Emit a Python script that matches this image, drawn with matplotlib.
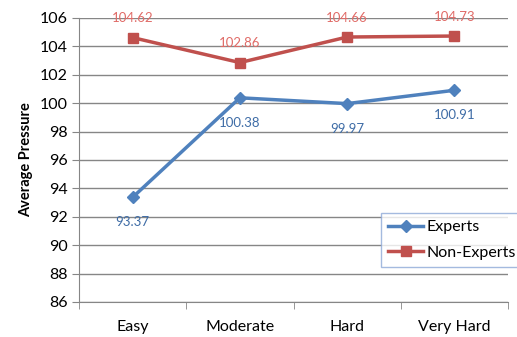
import matplotlib.pyplot as plt

categorias = ['Easy', 'Moderate', 'Hard', 'Very Hard']
expertos = [93.37, 100.38, 99.97, 100.91]
no_expertos = [104.62, 102.86, 104.66, 104.73]

azul = '#4F81BD'
rojo = '#C0504D'

plt.rcParams['font.family'] = ['Lato', 'DejaVu Sans']

fig = plt.figure(figsize=(5.17, 3.37), dpi=100)
ax = fig.add_axes([0.1528, 0.1039, 0.8298, 0.8427])

x = list(range(len(categorias)))
ax.plot(x, expertos, marker='D', markersize=6.5, color=azul, linewidth=2.5, label='Experts')
ax.plot(x, no_expertos, marker='s', markersize=7.5, color=rojo, linewidth=2.5, label='Non-Experts')

# etiquetas de valores
for i, v in enumerate(expertos):
    ax.annotate(f'{v:.2f}', (i, v), textcoords='offset points', xytext=(0, -18),
                ha='center', va='center', fontsize=9.5, color='#3E6CA6')
for i, v in enumerate(no_expertos):
    ax.annotate(f'{v:.2f}', (i, v), textcoords='offset points', xytext=(0, 14),
                ha='center', va='center', fontsize=9.5, color='#E06B67')

ax.set_xlim(-0.5, 3.5)
ax.set_ylim(86, 106)
ax.set_yticks(range(86, 107, 2))
ax.set_xticks(x)
ax.set_xticklabels(categorias)
ax.set_xticks([-0.5, 0.5, 1.5, 2.5, 3.5], minor=True)
ax.tick_params(axis='x', which='major', length=0, pad=13, labelsize=11.5)
ax.tick_params(axis='x', which='minor', length=5, color='#868686')
ax.tick_params(axis='y', length=5, color='#868686', labelsize=11.5, pad=3)
ax.yaxis.grid(True, color='#868686', linewidth=1)
ax.set_axisbelow(True)
for lado in ['top', 'right']:
    ax.spines[lado].set_visible(False)
for lado in ['left', 'bottom']:
    ax.spines[lado].set_color('#868686')
ax.set_ylabel('Average Pressure', fontsize=10.5, fontweight='bold', labelpad=5)

leg = ax.legend(loc='upper left', bbox_to_anchor=(0.704, 0.313), fontsize=11.5,
                frameon=True, fancybox=False, handlelength=2.2, handletextpad=0.2,
                borderpad=0.45, labelspacing=0.7, borderaxespad=0)
leg.get_frame().set_edgecolor('#8EA9D8')
leg.get_frame().set_linewidth(1)

fig.savefig('out.png', dpi=100)
